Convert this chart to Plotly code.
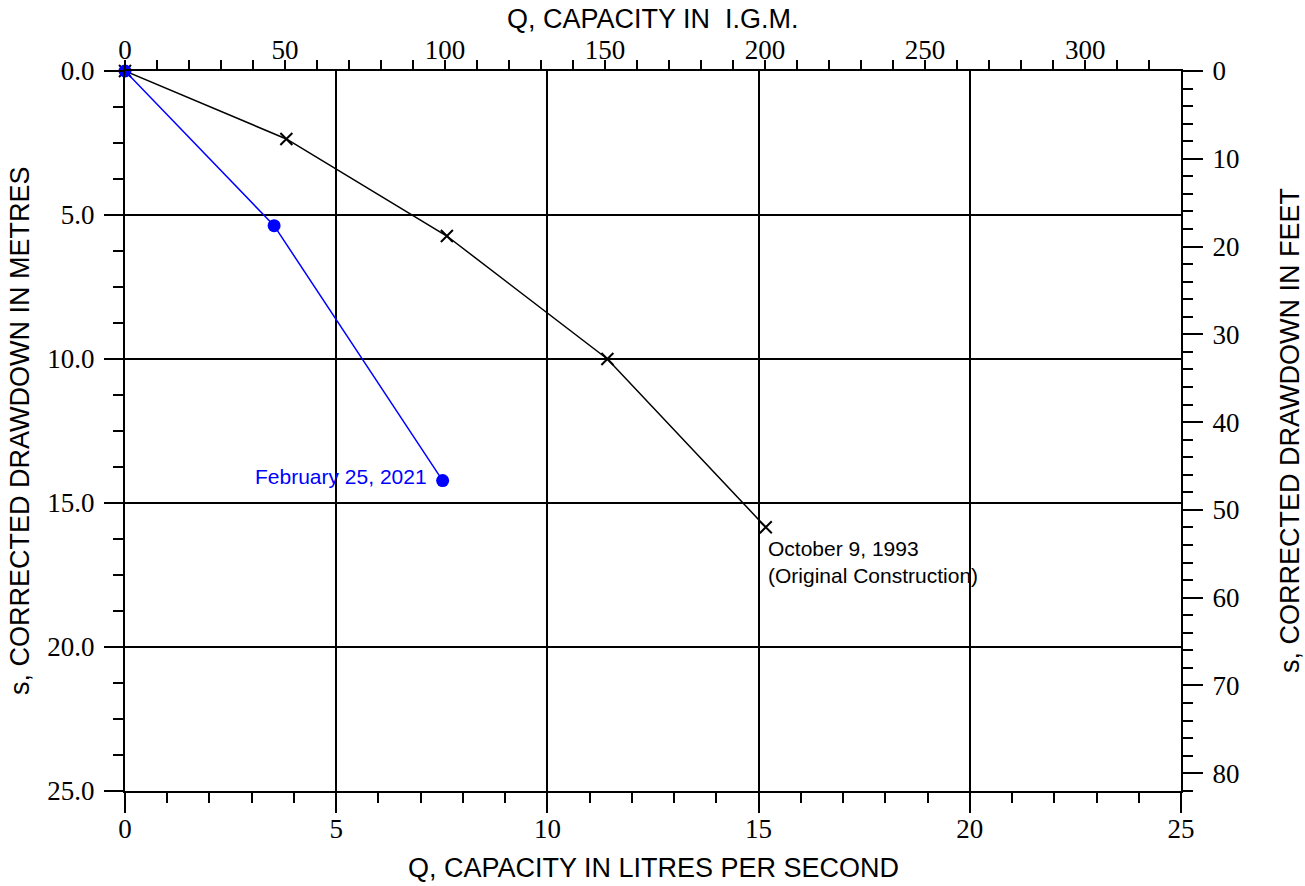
import plotly.graph_objects as go

# Data (Q in litres per second, s in metres)
orig_q = [0.0, 3.82, 7.62, 11.42, 15.17]
orig_s = [0.0, 2.36, 5.73, 10.0, 15.84]
new_q = [0.0, 3.53, 7.52]
new_s = [0.0, 5.37, 14.22]

LPS_TO_IGM = 13.198
M_TO_FT = 3.28084
X_MAX = 25
Y_MAX = 25

x_ticks = [0, 5, 10, 15, 20, 25]
y_ticks = [0, 5, 10, 15, 20, 25]
igm_ticks = [0, 50, 100, 150, 200, 250, 300]
ft_ticks = [0, 10, 20, 30, 40, 50, 60, 70, 80]

label_orig = "October 9, 1993<br>(Original Construction)"
label_new = "February 25, 2021"

SERIF = "Liberation Serif"
SANS = "Liberation Sans"

fig = go.Figure()
fig.add_trace(go.Scatter(
    x=orig_q, y=orig_s, mode="lines+markers", cliponaxis=False,
    line=dict(color="black", width=1.5),
    marker=dict(symbol="x-thin-open", size=12, line=dict(color="#4a4a4a", width=2)),
    showlegend=False, hoverinfo="skip"))
fig.add_trace(go.Scatter(
    x=new_q, y=new_s, mode="lines+markers", cliponaxis=False,
    line=dict(color="#0000ff", width=1.5),
    marker=dict(symbol="circle", size=13, color="#0000ff"),
    showlegend=False, hoverinfo="skip"))
# invisible trace to activate secondary axes (converted units)
fig.add_trace(go.Scatter(
    x=[q * LPS_TO_IGM for q in orig_q], y=[s * M_TO_FT for s in orig_s],
    xaxis="x2", yaxis="y2", mode="markers", marker=dict(opacity=0),
    showlegend=False, hoverinfo="skip"))

tickfont = dict(family=SERIF, size=27, color="black")

fig.update_layout(
    width=1305, height=886,
    margin=dict(l=125, r=124, t=71, b=95),
    paper_bgcolor="white", plot_bgcolor="white",
    xaxis=dict(
        range=[0, X_MAX], tickvals=x_ticks, ticks="outside", ticklen=20, tickwidth=2,
        tickcolor="black", showline=True, linewidth=2, linecolor="black",
        showgrid=True, gridcolor="black", gridwidth=1.5, zeroline=False,
        ticklabelstandoff=-7,
        minor=dict(dtick=1, ticks="outside", ticklen=10, tickwidth=2, tickcolor="black", showgrid=False),
        tickfont=tickfont),
    yaxis=dict(
        range=[Y_MAX, 0], tickvals=y_ticks, tickformat=".1f", ticks="outside", ticklen=19, tickwidth=2,
        tickcolor="black", showline=True, linewidth=2, linecolor="black",
        showgrid=True, gridcolor="black", gridwidth=1.5, zeroline=False,
        ticklabelstandoff=4,
        minor=dict(dtick=1.25, ticks="outside", ticklen=10, tickwidth=2, tickcolor="black", showgrid=False),
        tickfont=tickfont),
    xaxis2=dict(
        overlaying="x", side="top", anchor="y",
        range=[0, X_MAX * LPS_TO_IGM], tickvals=igm_ticks, ticks="outside", ticklen=9, tickwidth=1.5,
        tickcolor="black", showline=True, linewidth=2, linecolor="black",
        showgrid=False, zeroline=False,
        ticklabelstandoff=-10,
        minor=dict(dtick=10, ticks="outside", ticklen=9, tickwidth=1.5, tickcolor="black", showgrid=False),
        tickfont=tickfont),
    yaxis2=dict(
        overlaying="y", side="right", anchor="x",
        range=[Y_MAX * M_TO_FT, 0], tickvals=ft_ticks, ticks="outside", ticklen=20, tickwidth=2,
        tickcolor="black", showline=True, linewidth=2, linecolor="black",
        showgrid=False, zeroline=False,
        ticklabelstandoff=4,
        minor=dict(dtick=2, ticks="outside", ticklen=10, tickwidth=2, tickcolor="black", showgrid=False),
        tickfont=tickfont),
)

title_font = dict(family=SANS, size=27, color="black")
fig.add_annotation(text="Q, CAPACITY IN LITRES PER SECOND", xref="paper", yref="paper",
                   x=0.5, y=0, yshift=-77, showarrow=False, font=title_font,
                   xanchor="center", yanchor="middle")
fig.add_annotation(text="Q, CAPACITY IN&nbsp;&nbsp;I.G.M.", xref="paper", yref="paper",
                   x=0.5, y=1, yshift=52, showarrow=False, font=title_font,
                   xanchor="center", yanchor="middle")
fig.add_annotation(text="s, CORRECTED DRAWDOWN IN METRES", xref="paper", yref="paper",
                   x=0, y=0.5, xshift=-105, showarrow=False, font=title_font, textangle=-90,
                   xanchor="center", yanchor="middle")
fig.add_annotation(text="s, CORRECTED DRAWDOWN IN FEET", xref="paper", yref="paper",
                   x=1, y=0.5, xshift=109, showarrow=False, font=title_font, textangle=-90,
                   xanchor="center", yanchor="middle")

fig.add_annotation(text=label_new, x=new_q[-1], y=new_s[-1], xref="x", yref="y",
                   showarrow=False, xanchor="right", yanchor="middle", xshift=-14, yshift=4,
                   font=dict(family=SANS, size=21, color="#0000ff"))
fig.add_annotation(text=label_orig, x=orig_q[-1], y=orig_s[-1], xref="x", yref="y",
                   showarrow=False, xanchor="left", yanchor="top", xshift=0, yshift=-8, align="left",
                   font=dict(family=SANS, size=21, color="black"))

fig.write_html(
    "out.html",
    config={"displayModeBar": False},
    post_script="document.body.style.margin='0';document.body.style.padding='0';",
)
